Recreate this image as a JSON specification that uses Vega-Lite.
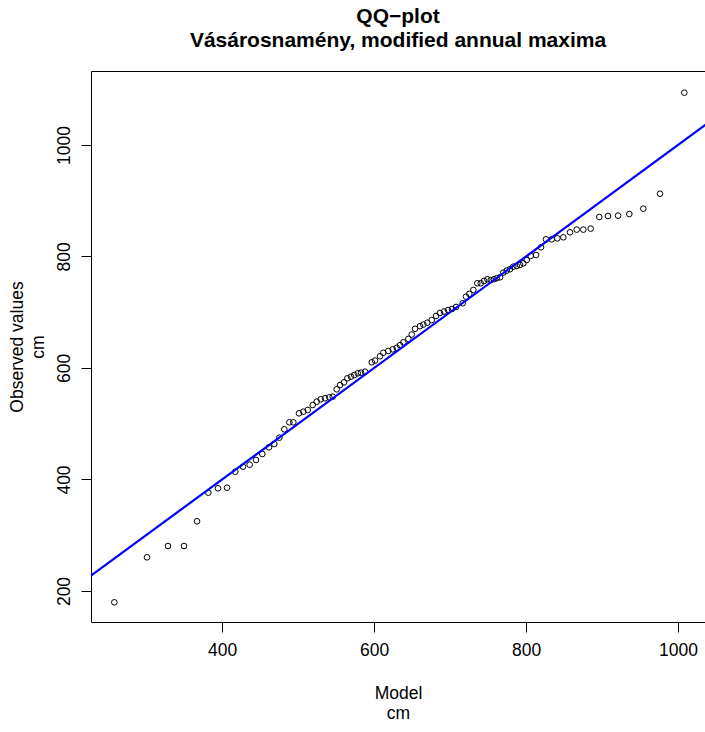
{
  "$schema": "https://vega.github.io/schema/vega-lite/v6.json",
  "width": 614,
  "height": 551,
  "autosize": {"type": "none"},
  "padding": {"left": 91, "top": 71, "right": 0, "bottom": 110},
  "background": "white",
  "config": {
    "font": "Liberation Sans",
    "view": {"stroke": null},
    "axis": {
      "grid": false,
      "domainColor": "black",
      "domainWidth": 1,
      "tickColor": "black",
      "tickWidth": 1,
      "tickSize": 10,
      "labelColor": "black",
      "labelFont": "Liberation Sans",
      "labelFontSize": 17.5,
      "labelFlush": false,
      "labelOverlap": false,
      "titleColor": "black",
      "titleFont": "Liberation Sans",
      "titleFontSize": 17.5,
      "titleFontWeight": "normal"
    }
  },
  "title": {
    "text": ["QQ\u2212plot", "V\u00e1s\u00e1rosnam\u00e9ny, modified annual maxima"],
    "anchor": "middle",
    "font": "Liberation Sans",
    "fontSize": 21,
    "fontWeight": "bold",
    "color": "black",
    "lineHeight": 24,
    "offset": 20
  },
  "datasets": {
    "pts": [
      {"x": 258.3, "y": 179.7}, {"x": 301.3, "y": 260.4}, {"x": 328.9, "y": 280.7}, {"x": 350.0, "y": 280.7},
      {"x": 367.1, "y": 325.0}, {"x": 382.0, "y": 376.3}, {"x": 394.7, "y": 384.2}, {"x": 406.6, "y": 385.3},
      {"x": 417.5, "y": 414.0}, {"x": 427.6, "y": 423.0}, {"x": 436.4, "y": 426.5}, {"x": 444.7, "y": 435.0},
      {"x": 453.0, "y": 445.7}, {"x": 461.8, "y": 457.8}, {"x": 468.8, "y": 463.7}, {"x": 475.4, "y": 475.0},
      {"x": 482.0, "y": 490.0}, {"x": 488.6, "y": 502.6}, {"x": 493.8, "y": 502.6}, {"x": 501.3, "y": 518.7},
      {"x": 507.0, "y": 521.6}, {"x": 512.8, "y": 524.7}, {"x": 519.3, "y": 533.6}, {"x": 524.6, "y": 539.6},
      {"x": 529.9, "y": 543.9}, {"x": 535.5, "y": 545.7}, {"x": 541.2, "y": 547.4}, {"x": 545.7, "y": 548.5},
      {"x": 550.9, "y": 561.8}, {"x": 555.3, "y": 569.5}, {"x": 560.5, "y": 574.3}, {"x": 564.9, "y": 581.5},
      {"x": 569.7, "y": 584.4}, {"x": 574.1, "y": 587.4}, {"x": 578.6, "y": 590.5}, {"x": 582.9, "y": 591.6},
      {"x": 588.2, "y": 593.4}, {"x": 597.0, "y": 610.3}, {"x": 601.3, "y": 613.3}, {"x": 607.9, "y": 621.0},
      {"x": 612.2, "y": 627.3}, {"x": 618.8, "y": 630.5}, {"x": 624.6, "y": 633.5}, {"x": 629.9, "y": 636.2},
      {"x": 634.2, "y": 641.0}, {"x": 638.6, "y": 646.1}, {"x": 645.1, "y": 652.2}, {"x": 649.6, "y": 660.0},
      {"x": 654.0, "y": 670.3}, {"x": 660.5, "y": 675.1}, {"x": 664.9, "y": 677.9}, {"x": 670.1, "y": 681.2},
      {"x": 675.9, "y": 686.0}, {"x": 681.6, "y": 693.3}, {"x": 686.8, "y": 698.7}, {"x": 692.1, "y": 701.3},
      {"x": 697.4, "y": 704.0}, {"x": 702.6, "y": 705.8}, {"x": 707.9, "y": 709.4}, {"x": 716.7, "y": 716.1},
      {"x": 721.1, "y": 728.0}, {"x": 725.4, "y": 732.9}, {"x": 730.7, "y": 740.0}, {"x": 735.9, "y": 752.0},
      {"x": 740.4, "y": 752.0}, {"x": 744.7, "y": 756.1}, {"x": 749.1, "y": 759.2}, {"x": 753.6, "y": 757.8},
      {"x": 757.9, "y": 759.2}, {"x": 761.4, "y": 761.0}, {"x": 765.8, "y": 762.7}, {"x": 770.1, "y": 771.0},
      {"x": 774.6, "y": 774.6}, {"x": 778.9, "y": 777.1}, {"x": 783.3, "y": 781.8}, {"x": 787.8, "y": 783.0},
      {"x": 792.1, "y": 784.8}, {"x": 796.4, "y": 787.8}, {"x": 800.9, "y": 793.7}, {"x": 806.2, "y": 800.9},
      {"x": 813.2, "y": 802.7}, {"x": 819.7, "y": 816.5}, {"x": 826.3, "y": 830.8}, {"x": 833.8, "y": 830.8},
      {"x": 841.2, "y": 832.6}, {"x": 849.1, "y": 834.4}, {"x": 857.9, "y": 843.4}, {"x": 866.7, "y": 848.2},
      {"x": 875.4, "y": 848.2}, {"x": 885.1, "y": 850.0}, {"x": 896.4, "y": 870.8}, {"x": 907.9, "y": 872.6},
      {"x": 921.1, "y": 873.3}, {"x": 935.9, "y": 876.2}, {"x": 954.3, "y": 885.8}, {"x": 976.3, "y": 912.6},
      {"x": 1008.3, "y": 1093.8}
    ],
    "ref": [{"x": 100, "y": 100}, {"x": 1200, "y": 1200}]
  },
  "layer": [
    {
      "data": {"name": "pts"},
      "mark": {"type": "point", "shape": "circle", "filled": false, "color": "black", "strokeWidth": 1, "size": 32, "opacity": 1},
      "encoding": {
        "x": {
          "field": "x", "type": "quantitative",
          "scale": {"domain": [227.6, 1035.5], "nice": false, "zero": false},
          "axis": {"orient": "bottom", "values": [400, 600, 800, 1000], "format": "d", "labelPadding": 9, "title": ["Model", "cm"], "titleX": 307, "titleY": 71, "titleBaseline": "middle", "titleLineHeight": 20, "titleAnchor": "middle"}
        },
        "y": {
          "field": "y", "type": "quantitative",
          "scale": {"domain": [144.4, 1132.7], "nice": false, "zero": false},
          "axis": {"orient": "left", "values": [200, 400, 600, 800, 1000], "format": "d", "labelAngle": -90, "labelAlign": "center", "labelBaseline": "alphabetic", "labelPadding": 12, "title": ["Observed values", "cm"], "titleX": -74, "titleY": 275.5, "titleAngle": -90, "titleBaseline": "middle", "titleLineHeight": 21, "titleAnchor": "middle"}
        }
      }
    },
    {
      "data": {"name": "ref"},
      "mark": {"type": "line", "color": "#0000FF", "strokeWidth": 2.2, "clip": true},
      "encoding": {
        "x": {
          "field": "x", "type": "quantitative",
          "scale": {"domain": [227.6, 1035.5], "nice": false, "zero": false},
          "axis": {"orient": "top", "labels": false, "ticks": false, "domain": true, "title": null}
        },
        "y": {
          "field": "y", "type": "quantitative",
          "scale": {"domain": [144.4, 1132.7], "nice": false, "zero": false},
          "axis": {"orient": "left", "values": [200, 400, 600, 800, 1000], "format": "d", "labelAngle": -90, "labelAlign": "center", "labelBaseline": "alphabetic", "labelPadding": 12, "title": ["Observed values", "cm"], "titleX": -74, "titleY": 275.5, "titleAngle": -90, "titleBaseline": "middle", "titleLineHeight": 21, "titleAnchor": "middle"}
        }
      }
    }
  ],
  "resolve": {"axis": {"x": "independent"}}
}
